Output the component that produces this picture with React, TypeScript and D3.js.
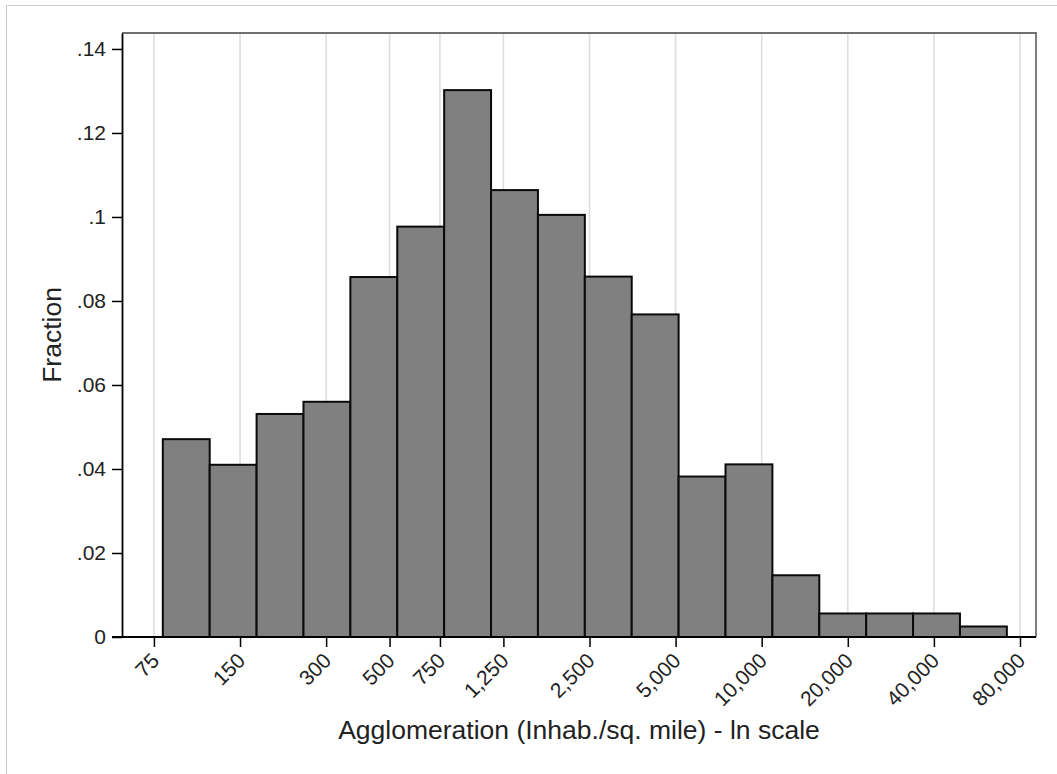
import { useEffect, useRef } from "react";
import * as d3 from "d3";

// histogram of ln(density), Stata-style
const fractions = [
  0.0471, 0.041, 0.0531, 0.056, 0.0857, 0.0977, 0.1302, 0.1064, 0.1005,
  0.0858, 0.0768, 0.0382, 0.0411, 0.0147, 0.0056, 0.0056, 0.0056, 0.0025,
];
const binStartLn = 4.389;
const binWidthLn = 0.3775;

const xTickValues = [75, 150, 300, 500, 750, 1250, 2500, 5000, 10000, 20000, 40000, 80000];
const yTickValues = [0, 0.02, 0.04, 0.06, 0.08, 0.1, 0.12, 0.14];

const xTitle = "Agglomeration (Inhab./sq. mile) - ln scale";
const yTitle = "Fraction";

const WIDTH = 1057;
const HEIGHT = 774;
const FONT = "'Liberation Sans', Arial, Helvetica, sans-serif";

const App = () => {
  const svgRef = useRef<SVGSVGElement | null>(null);

  useEffect(() => {
    const PLOT = { left: 122, right: 1036, top: 33, bottom: 637 };

    const svg = d3.select(svgRef.current).attr("width", WIDTH).attr("height", HEIGHT);
    svg.selectAll("*").remove();

    const x = d3.scaleLog().domain([58, 91000]).range([PLOT.left, PLOT.right]);
    const y = d3.scaleLinear().domain([0, 0.1438]).range([PLOT.bottom, PLOT.top]);

    // outer graph frame
    svg
      .append("path")
      .attr("d", `M6.5,${HEIGHT} V5.5 H${WIDTH}`)
      .attr("fill", "none")
      .attr("stroke", "#cccccc")
      .attr("stroke-width", 1);

    // vertical grid lines
    svg
      .append("g")
      .selectAll("line")
      .data(xTickValues)
      .enter()
      .append("line")
      .attr("x1", (d) => x(d))
      .attr("x2", (d) => x(d))
      .attr("y1", PLOT.top)
      .attr("y2", PLOT.bottom)
      .attr("stroke", "#dedede")
      .attr("stroke-width", 1.6);

    // top + right border
    svg
      .append("path")
      .attr("d", `M${PLOT.left},${PLOT.top} H${PLOT.right} V${PLOT.bottom}`)
      .attr("fill", "none")
      .attr("stroke", "#707070")
      .attr("stroke-width", 1.8);

    // bars
    svg
      .append("g")
      .selectAll("rect")
      .data(fractions)
      .enter()
      .append("rect")
      .attr("x", (d, i) => x(Math.exp(binStartLn + i * binWidthLn)))
      .attr("width", (d, i) =>
        x(Math.exp(binStartLn + (i + 1) * binWidthLn)) - x(Math.exp(binStartLn + i * binWidthLn))
      )
      .attr("y", (d) => y(d))
      .attr("height", (d) => y(0) - y(d))
      .attr("fill", "#808080")
      .attr("stroke", "#0a0a0a")
      .attr("stroke-width", 2);

    // y axis
    const yAxis = svg
      .append("g")
      .attr("transform", `translate(${PLOT.left},0)`)
      .call(
        d3
          .axisLeft(y)
          .tickValues(yTickValues)
          .tickSize(10)
          .tickSizeOuter(0)
          .tickPadding(6)
          .tickFormat((d: any) => (d === 0 ? "0" : d3.format(".2~f")(d).replace(/^0/, "")))
      );
    yAxis.select(".domain").attr("stroke", "#000").attr("stroke-width", 1.8);
    yAxis.selectAll(".tick line").attr("stroke", "#000").attr("stroke-width", 1.5);
    yAxis
      .selectAll(".tick text")
      .attr("font-family", FONT)
      .attr("font-size", 21)
      .attr("fill", "#222");

    // x axis
    const xAxis = svg
      .append("g")
      .attr("transform", `translate(0,${PLOT.bottom})`)
      .call(
        d3
          .axisBottom(x)
          .tickValues(xTickValues)
          .tickSize(10)
          .tickSizeOuter(0)
          .tickFormat((d: any) => d3.format(",")(d))
      );
    xAxis.select(".domain").attr("stroke", "#000").attr("stroke-width", 1.8)
      .attr("d", `M${PLOT.left - 10},0 H${PLOT.right}`);
    xAxis.selectAll(".tick line").attr("stroke", "#000").attr("stroke-width", 1.5);
    xAxis
      .selectAll(".tick text")
      .attr("font-family", FONT)
      .attr("font-size", 21)
      .attr("fill", "#222")
      .attr("text-anchor", "end")
      .attr("dy", null)
      .attr("y", null)
      .attr("transform", "translate(6,25) rotate(-45)");

    // titles
    svg
      .append("text")
      .attr("x", 579)
      .attr("y", 739)
      .attr("text-anchor", "middle")
      .attr("font-family", FONT)
      .attr("font-size", 26.5)
      .attr("fill", "#222")
      .text(xTitle);

    svg
      .append("text")
      .attr("transform", `translate(61,335) rotate(-90)`)
      .attr("text-anchor", "middle")
      .attr("font-family", FONT)
      .attr("font-size", 26.5)
      .attr("fill", "#222")
      .text(yTitle);
  }, []);

  return (
    <svg
      ref={svgRef}
      style={{ position: "absolute", left: 0, top: 0, display: "block", background: "#fff" }}
    />
  );
};

export default App;
